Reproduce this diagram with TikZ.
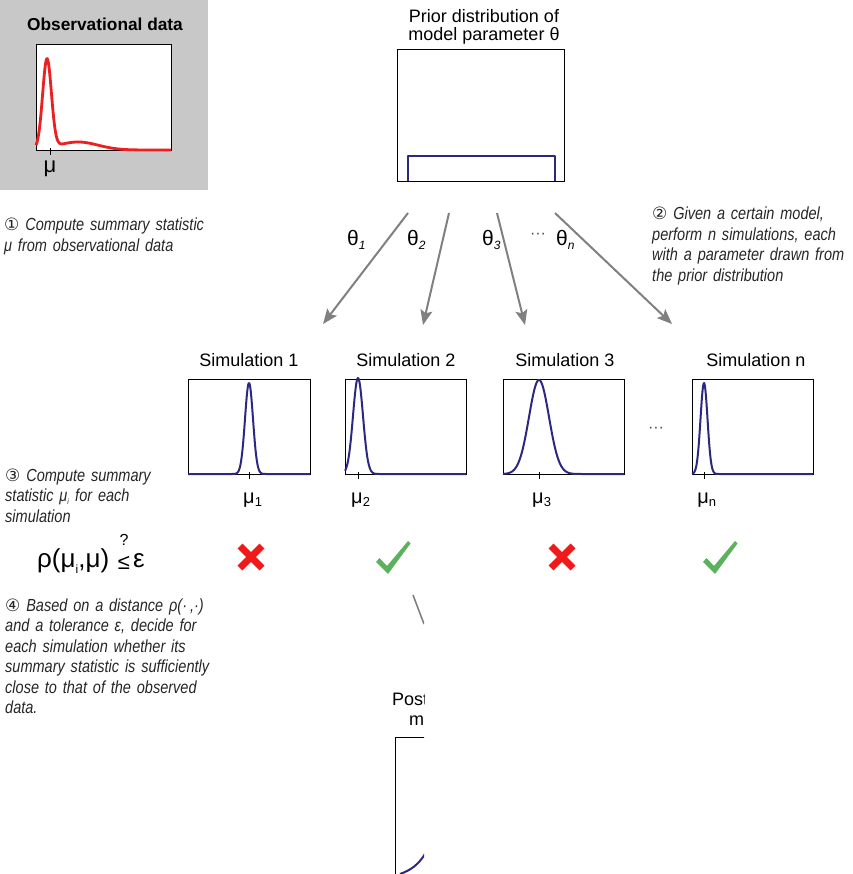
\documentclass[tikz,border=0pt]{standalone}
\usepackage{fontspec}
\setmainfont{Liberation Sans}
\newfontfamily\stepfont[FakeStretch=0.83]{Liberation Sans}
\newfontfamily\circfont{DejaVu Sans}
\usetikzlibrary{arrows.meta}

\definecolor{panelgray}{RGB}{200,200,200}
\definecolor{curvenavy}{RGB}{44,40,128}
\definecolor{obsred}{RGB}{236,32,32}
\definecolor{crossred}{RGB}{240,26,26}
\definecolor{checkgreen}{RGB}{92,178,92}
\definecolor{arrowgray}{RGB}{128,128,128}

\newcommand{\circnum}[1]{{\circfont\upshape\fontsize{17}{17}\selectfont #1}}
\newcommand{\subsc}[1]{\rlap{\raisebox{-3pt}{\fontsize{13}{13}\selectfont #1}}}
\newcommand{\thsub}[1]{\rlap{\raisebox{-4pt}{\itshape\fontsize{12}{12}\selectfont #1}}}

\tikzset{
  title/.style={font=\fontsize{18}{18}\selectfont, inner sep=0, anchor=base},
  steptext/.style={font=\stepfont\itshape\fontsize{17.5}{20.5}\selectfont,
    inner sep=0, anchor=base west, align=left, text width=230pt, text=black!85},
  plotbox/.style={draw=black, line width=0.9pt, fill=white, inner sep=0, anchor=north west},
  density/.style={draw=curvenavy, line width=2pt, line join=round},
  obscurve/.style={draw=obsred, line width=2.8pt, line join=round},
  tick/.style={draw=black, line width=0.9pt},
  sample/.style={draw=arrowgray, line width=2pt,
    -{Stealth[length=15pt,width=12pt,inset=3pt]}},
  statlabel/.style={font=\fontsize{20}{20}\selectfont, inner sep=0, anchor=base},
  thetalabel/.style={font=\fontsize{21}{21}\selectfont, inner sep=0, anchor=base west},
  ellipsisdots/.style={font=\fontsize{16}{16}\selectfont, inner sep=0, text=black!70},
  cross/.style={draw=crossred, line width=7pt},
  check/.style={fill=checkgreen, draw=none},
}

\begin{document}
\begin{tikzpicture}[x=1pt, y=-1pt]
\useasboundingbox (0,0) rectangle (852,874);

% observed data panel
\node[fill=panelgray, inner sep=0, minimum width=208pt, minimum height=190pt, anchor=north west] (obspanel) at (0,0) {};
\node[font=\bfseries\fontsize{17.3}{17.3}\selectfont, inner sep=0, anchor=base] (obstitle) at (105,31) {Observational data};
\node[plotbox, minimum width=135pt, minimum height=106pt] (obsbox) at (36,44) {};
\draw[obscurve] plot[domain=36:171, samples=220]
  (\x, {150 - 89*exp(-((\x-47)/4.4)^2/2) - 8*exp(-((\x-78)/20)^2/2)});
\draw[tick] (50,148) -- (50,155);
\node[statlabel, font=\fontsize{22}{22}\selectfont] (obsmu) at (50,173) {μ};

% step 1
\node[steptext] (step1) at (4,231) {\circnum{①} Compute summary statistic\\μ from observational data};

% prior
\node[title] (priortitle1) at (484,23) {Prior distribution of};
\node[title] (priortitle2) at (484,41) {model parameter θ};
\node[plotbox, minimum width=167pt, minimum height=132pt] (priorbox) at (397,49) {};
\draw[density] (408,181) -- (408,156) -- (555,156) -- (555,181);

% step 2
\node[steptext] (step2) at (652,220) {\circnum{②} Given a certain model,\\perform n simulations, each\\with a parameter drawn from\\the prior distribution};

% sampling arrows
\coordinate (p1) at (408,213); \coordinate (s1) at (323,324);
\coordinate (p2) at (449,213); \coordinate (s2) at (423,325);
\coordinate (p3) at (497,213); \coordinate (s3) at (525,325);
\coordinate (pn) at (555,213); \coordinate (sn) at (672,324);
\draw[sample] (p1) -- (s1);
\draw[sample] (p2) -- (s2);
\draw[sample] (p3) -- (s3);
\draw[sample] (pn) -- (sn);
\node[thetalabel] (th1) at (347,246) {θ\thsub{1}};
\node[thetalabel] (th2) at (407,246) {θ\thsub{2}};
\node[thetalabel] (th3) at (482,246) {θ\thsub{3}};
\node[ellipsisdots] (thdots) at (538,236) {···};
\node[thetalabel] (thn) at (556,246) {θ\thsub{n}};

% simulations
\node[title] (sim1title) at (249,366) {Simulation 1};
\node[title] (sim2title) at (406,366) {Simulation 2};
\node[title] (sim3title) at (565,366) {Simulation 3};
\node[title] (simntitle) at (756,366) {Simulation n};

\node[plotbox, minimum width=122pt, minimum height=95pt] (sim1box) at (188,379) {};
\node[plotbox, minimum width=121pt, minimum height=95pt] (sim2box) at (345,379) {};
\node[plotbox, minimum width=121pt, minimum height=95pt] (sim3box) at (503,379) {};
\node[plotbox, minimum width=121pt, minimum height=95pt] (simnbox) at (692,379) {};

\draw[density] plot[domain=188:310, samples=240] (\x, {474 - 91*exp(-((\x-249)/4)^2/2)});
\draw[density] plot[domain=345:466, samples=240] (\x, {474 - 96*exp(-((\x-358)/5)^2/2)});
\draw[density] plot[domain=503:624, samples=240] (\x, {474 - 94*exp(-((\x-539)/10)^2/2)});
\draw[density] plot[domain=692:813, samples=240] (\x, {474 - 91*exp(-((\x-704)/3.5)^2/2)});

\draw[tick] (249,472) -- (249,479);
\draw[tick] (358,472) -- (358,479);
\draw[tick] (539,472) -- (539,479);
\draw[tick] (704,472) -- (704,479);

\node[statlabel] (mu1) at (249,503) {μ\subsc{1}};
\node[statlabel] (mu2) at (357,503) {μ\subsc{2}};
\node[statlabel] (mu3) at (538,503) {μ\subsc{3}};
\node[statlabel] (mun) at (703,503) {μ\subsc{n}};

\node[ellipsisdots] (simdots) at (656,430) {···};

% step 3
\node[steptext, text width=240pt] (step3) at (5,481) {\circnum{③} Compute summary\\statistic μ\textsubscript{\fontsize{8}{8}\selectfont i} for each\\simulation};

% acceptance criterion
\node[font=\fontsize{26}{26}\selectfont, inner sep=0, anchor=base west] (rho) at (37,567)
  {ρ(μ\raisebox{-6pt}{\fontsize{12}{12}\selectfont i},μ)};
\node[font=\fontsize{22}{22}\selectfont, inner sep=0, anchor=base] (leq) at (124,569) {≤};
\node[font=\fontsize{16}{16}\selectfont, inner sep=0, anchor=base] (qmark) at (124,545) {?};
\node[font=\fontsize{26}{26}\selectfont, inner sep=0, anchor=base west] (eps) at (133,567) {ε};

% accept / reject marks
\draw[cross] (240,546) -- (262,568) (262,546) -- (240,568);
\draw[cross] (551,546) -- (573,568) (573,546) -- (551,568);
\fill[check] (376,562) -- (379.5,558) -- (387,566) -- (408,541) -- (410.5,543.5) -- (388,574) -- cycle;
\fill[check] (703,562) -- (706.5,558) -- (714,566) -- (735,541) -- (737.5,543.5) -- (715,574) -- cycle;

% step 4
\node[steptext] (step4) at (5,611) {\circnum{④} Based on a distance ρ(·\,,·)\\and a tolerance ε, decide for\\each simulation whether its\\summary statistic is sufficiently\\close to that of the observed\\data.};

% posterior (cut off at the right)
\begin{scope}
  \clip (380,580) rectangle (424,874);
  \draw[draw=arrowgray, line width=1.6pt] (413,595) -- (424,624);
  \node[title, anchor=base west] (posttitle1) at (392,705) {Post};
  \node[title, anchor=base west] (posttitle2) at (409,725) {m};
  \draw[draw=black, line width=0.9pt] (395,880) -- (395,737) -- (430,737);
  \draw[density] (400,874) .. controls (411,870) and (418,865) .. (425,854);
\end{scope}
\end{tikzpicture}
\end{document}
